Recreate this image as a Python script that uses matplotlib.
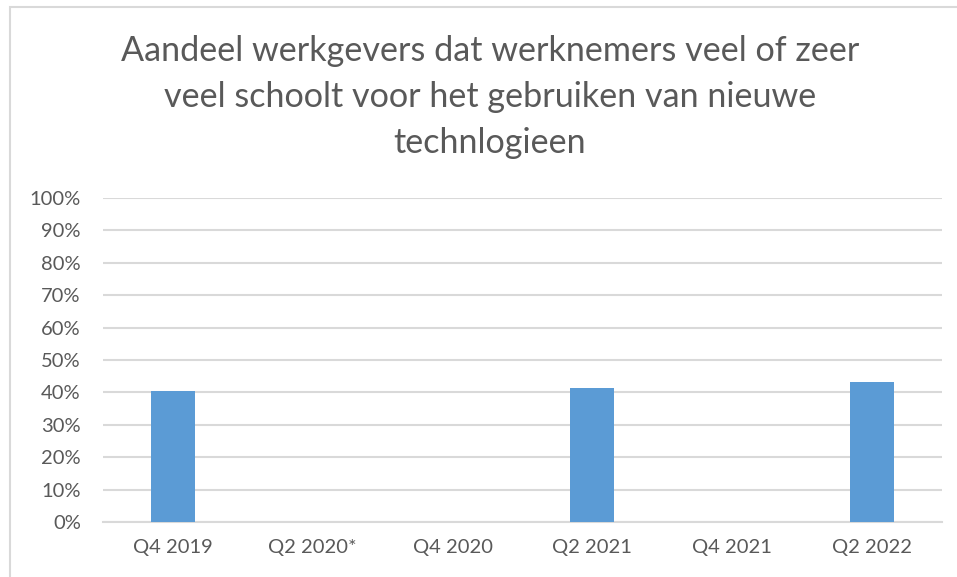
import numpy as np
import matplotlib
matplotlib.use("Agg")
import matplotlib.pyplot as plt
from matplotlib.patches import Rectangle

# kwartalen en aandeel (fractie), ontbrekende kwartalen als nan
quarters = ["Q4 2019", "Q2 2020*", "Q4 2020", "Q2 2021", "Q4 2021", "Q2 2022"]
share = [0.405, np.nan, np.nan, 0.413, np.nan, 0.433]
yticks = [i / 10 for i in range(11)]
ytick_labels = [f"{i * 10}%" for i in range(11)]
title = "Aandeel werkgevers dat werknemers veel of zeer\nveel schoolt voor het gebruiken van nieuwe\ntechnlogieen"

grey = "#595959"
plt.rcParams["font.family"] = ["Lato", "DejaVu Sans"]

fig = plt.figure(figsize=(9.57, 5.77), dpi=100)
W, H = 957, 577
ax = fig.add_axes([103 / W, (H - 522) / H, (942 - 103) / W, (522 - 198) / H])

x = np.arange(len(quarters))
ax.bar(x, share, width=0.315, color="#5B9BD5", zorder=3)

ax.set_xlim(-0.5, len(quarters) - 0.5)
ax.set_ylim(0, 1)
ax.set_yticks(yticks)
ax.set_yticklabels(ytick_labels)
ax.set_xticks(x)
ax.set_xticklabels(quarters)
ax.tick_params(axis="y", length=0, pad=16, labelsize=14.5, labelcolor=grey)
ax.tick_params(axis="x", length=0, pad=12, labelsize=14.5, labelcolor=grey)
ax.grid(axis="y", color="#D9D9D9", linewidth=1.5, zorder=0)
for s in ["top", "right", "left"]:
    ax.spines[s].set_visible(False)
ax.spines["bottom"].set_color("#D9D9D9")
ax.spines["bottom"].set_linewidth(1.5)

fig.text(490 / W, 1 - 97 / H, title, ha="center", va="center", fontsize=24.6,
         color=grey, linespacing=1.53)

# kader rond de grafiek
fig.patches.append(Rectangle((10 / W, -0.1), 1.2, 1 - 7 / H + 0.1, transform=fig.transFigure,
                             fill=False, edgecolor="#D9D9D9", linewidth=1.5))

fig.savefig("out.png", dpi=100)
